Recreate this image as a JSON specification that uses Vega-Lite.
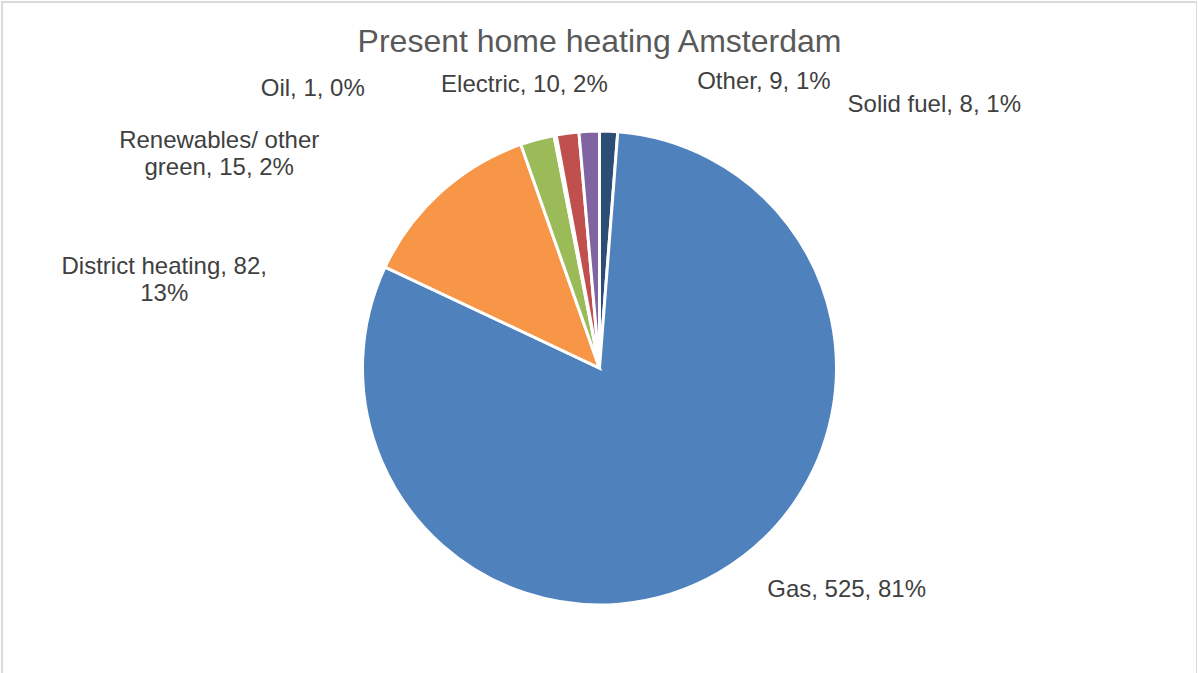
{
  "$schema": "https://vega.github.io/schema/vega-lite/v6.json",
  "width": 1195,
  "height": 732,
  "autosize": {"type": "none"},
  "padding": {"left": 2, "top": 2, "right": 0, "bottom": 0},
  "background": "white",
  "view": {"stroke": "#D9D9D9", "strokeWidth": 2},
  "config": {"view": {"stroke": "#D9D9D9", "strokeWidth": 2}, "font": "Liberation Sans"},
  "title": {"text": "Present home heating Amsterdam", "fontSize": 32, "font": "Liberation Sans", "fontWeight": "normal", "color": "#595959", "anchor": "middle", "frame": "group", "baseline": "alphabetic", "offset": -82},
  "data": {"values": [
    {"idx": 1, "category": "Solid fuel", "value": 8, "label": "Solid fuel, 8, 1%"},
    {"idx": 2, "category": "Gas", "value": 525, "label": "Gas, 525, 81%"},
    {"idx": 3, "category": "District heating", "value": 82, "label": "District heating, 82,\n13%"},
    {"idx": 4, "category": "Renewables/ other green", "value": 15, "label": "Renewables/ other\ngreen, 15, 2%"},
    {"idx": 5, "category": "Oil", "value": 1, "label": "Oil, 1, 0%"},
    {"idx": 6, "category": "Electric", "value": 10, "label": "Electric, 10, 2%"},
    {"idx": 7, "category": "Other", "value": 9, "label": "Other, 9, 1%"}
  ]},
  "encoding": {
    "theta": {"field": "value", "type": "quantitative", "stack": true},
    "order": {"field": "idx", "type": "quantitative"}
  },
  "layer": [
    {
      "mark": {"type": "arc", "outerRadius": 237, "stroke": "white", "strokeWidth": 3},
      "encoding": {
        "color": {"field": "category", "type": "nominal", "legend": null,
          "scale": {"domain": ["Solid fuel", "Gas", "District heating", "Renewables/ other green", "Oil", "Electric", "Other"],
                    "range": ["#2C4D75", "#4F81BD", "#F79646", "#9BBB59", "#4BACC6", "#C0504D", "#8064A2"]}}
      }
    },
    {
      "mark": {"type": "text", "radius": 260, "dx": 238, "dy": -3, "align": "left", "baseline": "middle", "fontSize": 24, "color": "#404040", "lineBreak": "\n", "lineHeight": 27},
      "encoding": {"text": {"condition": {"test": "datum.category === 'Solid fuel'", "field": "label"}, "value": ""}}
    },
    {
      "mark": {"type": "text", "radius": 260, "dx": 37, "dy": -3, "align": "left", "baseline": "middle", "fontSize": 24, "color": "#404040", "lineBreak": "\n", "lineHeight": 27},
      "encoding": {"text": {"condition": {"test": "datum.category === 'Gas'", "field": "label"}, "value": ""}}
    },
    {
      "mark": {"type": "text", "radius": 260, "dx": -261, "dy": 92, "align": "center", "baseline": "middle", "fontSize": 24, "color": "#404040", "lineBreak": "\n", "lineHeight": 27},
      "encoding": {"text": {"condition": {"test": "datum.category === 'District heating'", "field": "label"}, "value": ""}}
    },
    {
      "mark": {"type": "text", "radius": 260, "dx": -312, "dy": 24, "align": "center", "baseline": "middle", "fontSize": 24, "color": "#404040", "lineBreak": "\n", "lineHeight": 27},
      "encoding": {"text": {"condition": {"test": "datum.category === 'Renewables/ other green'", "field": "label"}, "value": ""}}
    },
    {
      "mark": {"type": "text", "radius": 260, "dx": -186, "dy": -24, "align": "right", "baseline": "middle", "fontSize": 24, "color": "#404040", "lineBreak": "\n", "lineHeight": 27},
      "encoding": {"text": {"condition": {"test": "datum.category === 'Oil'", "field": "label"}, "value": ""}}
    },
    {
      "mark": {"type": "text", "radius": 260, "dx": -40, "dy": -25, "align": "center", "baseline": "middle", "fontSize": 24, "color": "#404040", "lineBreak": "\n", "lineHeight": 27},
      "encoding": {"text": {"condition": {"test": "datum.category === 'Electric'", "field": "label"}, "value": ""}}
    },
    {
      "mark": {"type": "text", "radius": 260, "dx": 109, "dy": -26, "align": "left", "baseline": "middle", "fontSize": 24, "color": "#404040", "lineBreak": "\n", "lineHeight": 27},
      "encoding": {"text": {"condition": {"test": "datum.category === 'Other'", "field": "label"}, "value": ""}}
    }
  ]
}
